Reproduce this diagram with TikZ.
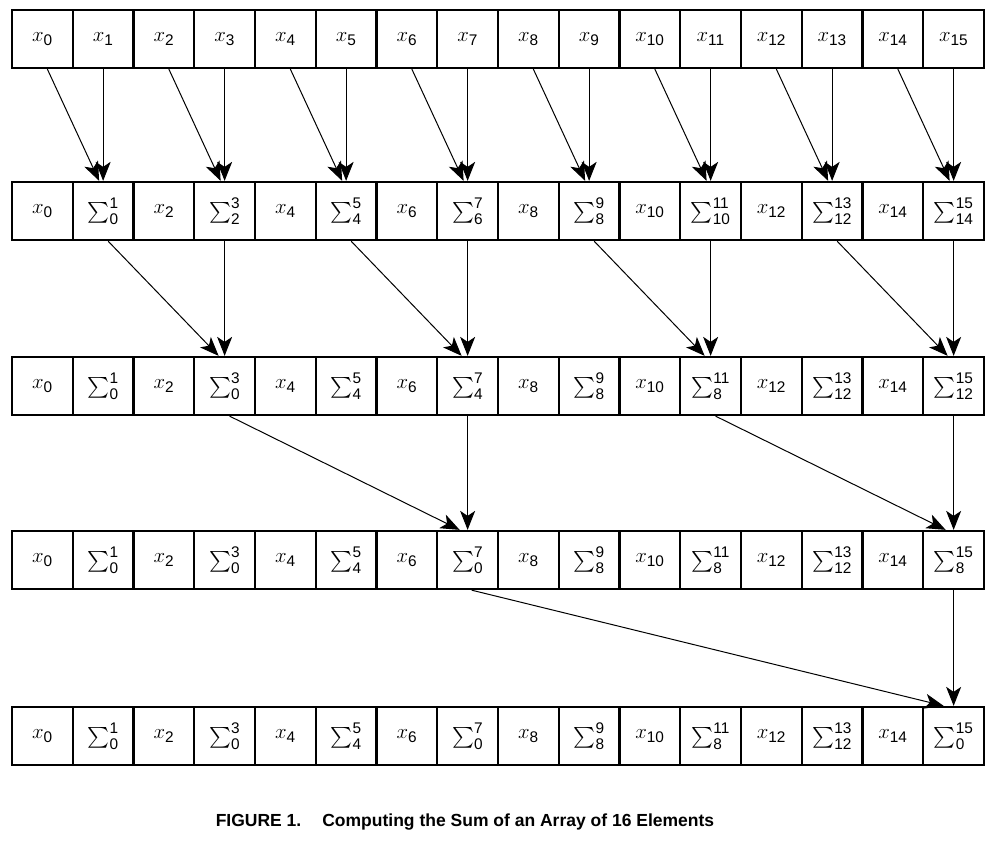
\documentclass[tikz,border=0pt]{standalone}
\usepackage{amsmath}
\usepackage{fontspec}
\setsansfont{Liberation Sans}
\usepackage{tikz}
\usetikzlibrary{positioning,arrows.meta}

\newcommand{\xx}[1]{$x_{\textsf{#1}}$}
\newcommand{\sm}[2]{$\sum\nolimits_{\textsf{#1}}^{\textsf{#2}}$}

\tikzset{
  cell/.style={rectangle, draw, line width=2.3pt, minimum width=60.75pt, minimum height=58pt, inner sep=0pt, font=\fontsize{22}{26}\selectfont},
  link/.style={line width=1pt, -{Stealth[length=19pt,width=15pt,inset=5pt]}},
}

\begin{document}
\begin{tikzpicture}[x=1pt, y=-1pt]
    \useasboundingbox (0,0) rectangle (991,847);
    % Row: input array
    \foreach \i in {0,...,15}
        \node[cell] (input\i) at ({12+60.75*(\i+0.5)}, 39) {\xx{\i}};
    % Row: after pass one
    \foreach \i in {0,2,...,14}
        \node[cell] (passOne\i) at ({12+60.75*(\i+0.5)}, 211) {\xx{\i}};
    \foreach \i/\s in {1/0,3/2,5/4,7/6,9/8,11/10,13/12,15/14}
        \node[cell] (passOne\i) at ({12+60.75*(\i+0.5)}, 211) {\sm{\s}{\i}};
    % Row: after pass two
    \foreach \i in {0,2,...,14}
        \node[cell] (passTwo\i) at ({12+60.75*(\i+0.5)}, 386) {\xx{\i}};
    \foreach \i/\s in {1/0,3/0,5/4,7/4,9/8,11/8,13/12,15/12}
        \node[cell] (passTwo\i) at ({12+60.75*(\i+0.5)}, 386) {\sm{\s}{\i}};
    % Row: after pass three
    \foreach \i in {0,2,...,14}
        \node[cell] (passThree\i) at ({12+60.75*(\i+0.5)}, 560) {\xx{\i}};
    \foreach \i/\s in {1/0,3/0,5/4,7/0,9/8,11/8,13/12,15/8}
        \node[cell] (passThree\i) at ({12+60.75*(\i+0.5)}, 560) {\sm{\s}{\i}};
    % Row: after pass four
    \foreach \i in {0,2,...,14}
        \node[cell] (passFour\i) at ({12+60.75*(\i+0.5)}, 736) {\xx{\i}};
    \foreach \i/\s in {1/0,3/0,5/4,7/0,9/8,11/8,13/12,15/0}
        \node[cell] (passFour\i) at ({12+60.75*(\i+0.5)}, 736) {\sm{\s}{\i}};
    % Arrows: pass one
    \foreach \i in {1,3,...,15} {
        \pgfmathtruncatemacro\j{\i-1}
        \draw[link] ([xshift=5pt]input\j.south) -- ([xshift=-4pt]passOne\i.north);
        \draw[link] (input\i.south) -- (passOne\i.north);
    }
    % Arrows: pass two
    \foreach \i in {3,7,11,15} {
        \pgfmathtruncatemacro\j{\i-2}
        \draw[link] ([xshift=5pt]passOne\j.south) -- ([xshift=-6pt]passTwo\i.north);
        \draw[link] (passOne\i.south) -- (passTwo\i.north);
    }
    % Arrows: pass three
    \foreach \i in {7,15} {
        \pgfmathtruncatemacro\j{\i-4}
        \draw[link] ([xshift=5pt]passTwo\j.south) -- ([xshift=-8pt]passThree\i.north);
        \draw[link] (passTwo\i.south) -- (passThree\i.north);
    }
    % Arrows: pass four
    \draw[link] ([xshift=4pt]passThree7.south) -- ([xshift=-10pt]passFour15.north);
    \draw[link] (passThree15.south) -- (passFour15.north);
    % Caption
    \node[font=\sffamily\bfseries\fontsize{17.5}{21}\selectfont] (caption) at (465, 822)
        {FIGURE 1.\hspace{1.2em}Computing the Sum of an Array of 16 Elements};
\end{tikzpicture}
\end{document}
